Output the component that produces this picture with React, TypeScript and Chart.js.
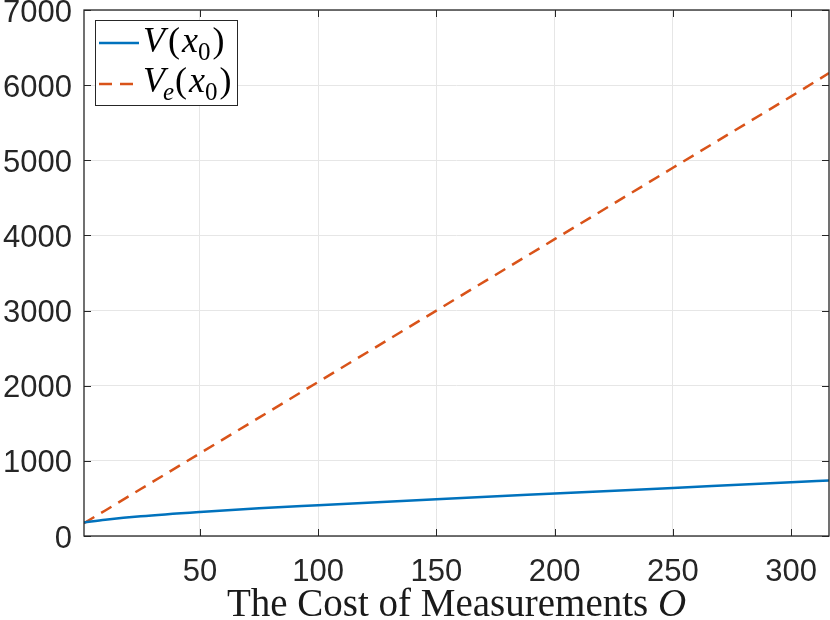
import React, { useEffect, useRef } from "react";
import { Chart, registerables } from "chart.js";

Chart.register(...registerables);

// cost of measurements O
const costs = [1, 10, 25, 50, 75, 100, 150, 200, 250, 300, 316];
// V(x0)
const vValues = [180, 215, 262, 320, 368, 409, 489, 565, 640, 715, 740];
// Ve(x0)
const veValues = [170, 340, 625, 1100, 1575, 2050, 3000, 3950, 4900, 5850, 6160];

const xTicks = [50, 100, 150, 200, 250, 300];
const yTicks = [0, 1000, 2000, 3000, 4000, 5000, 6000, 7000];

const BLUE = "#0072BD";
const ORANGE = "#D95319";
const AXIS = "#262626";
const SERIF = "'Liberation Serif', serif";

// draws "V(x0)" / "Ve(x0)" like LaTeX math
function drawMath(ctx, x, y, sub, size) {
  const it = `italic ${size}px ${SERIF}`;
  const up = `${size}px ${SERIF}`;
  const small = `${Math.round(size * 0.7)}px ${SERIF}`;
  const smallIt = `italic ${Math.round(size * 0.7)}px ${SERIF}`;
  const put = (t, font, dy = 0, gap = 0) => {
    ctx.font = font;
    ctx.fillText(t, x, y + dy);
    x += ctx.measureText(t).width + gap;
  };
  put("V", it, 0, sub ? -2 : 3);
  if (sub) put(sub, smallIt, size * 0.22, 1);
  put("(", up, 0, 2);
  put("x", it, 0, 0);
  put("0", small, size * 0.22, 2);
  put(")", up);
}

const decorations = {
  id: "decorations",
  afterDraw(chart) {
    const { ctx, chartArea: a, scales } = chart;
    ctx.save();
    // inward ticks
    ctx.strokeStyle = AXIS;
    ctx.lineWidth = 1;
    ctx.beginPath();
    xTicks.forEach((v) => {
      const px = Math.round(scales.x.getPixelForValue(v)) + 0.5;
      ctx.moveTo(px, a.bottom);
      ctx.lineTo(px, a.bottom - 7);
      ctx.moveTo(px, a.top);
      ctx.lineTo(px, a.top + 7);
    });
    yTicks.forEach((v) => {
      const py = Math.round(scales.y.getPixelForValue(v)) + 0.5;
      ctx.moveTo(a.left, py);
      ctx.lineTo(a.left + 7, py);
      ctx.moveTo(a.right, py);
      ctx.lineTo(a.right - 7, py);
    });
    ctx.stroke();
    // frame
    ctx.lineWidth = 1.3;
    ctx.strokeRect(a.left, a.top, a.right - a.left, a.bottom - a.top);

    // legend
    const lx = 95, ly = 20, lw = 142, lh = 85;
    ctx.fillStyle = "#fff";
    ctx.fillRect(lx, ly, lw, lh);
    ctx.lineWidth = 1;
    ctx.strokeStyle = AXIS;
    ctx.strokeRect(lx + 0.5, ly + 0.5, lw, lh);
    ctx.lineWidth = 2.5;
    ctx.strokeStyle = BLUE;
    ctx.beginPath();
    ctx.moveTo(99, 43);
    ctx.lineTo(139, 43);
    ctx.stroke();
    ctx.strokeStyle = ORANGE;
    ctx.setLineDash([13, 8]);
    ctx.beginPath();
    ctx.moveTo(99, 84);
    ctx.lineTo(139, 84);
    ctx.stroke();
    ctx.setLineDash([]);
    ctx.fillStyle = "#000";
    ctx.textBaseline = "alphabetic";
    drawMath(ctx, 143, 52, "", 36);
    drawMath(ctx, 143, 92, "e", 36);

    // x axis title
    const size = 39;
    ctx.fillStyle = "#1a1a1a";
    ctx.font = `${size}px ${SERIF}`;
    const main = "The Cost of Measurements ";
    const w1 = ctx.measureText(main).width;
    ctx.font = `italic ${size}px ${SERIF}`;
    const w2 = ctx.measureText("O").width;
    const cx = (a.left + a.right) / 2;
    const tx = cx - (w1 + w2) / 2;
    ctx.font = `${size}px ${SERIF}`;
    ctx.fillText(main, tx, 616);
    ctx.font = `italic ${size}px ${SERIF}`;
    ctx.fillText("O", tx + w1, 616);
    ctx.restore();
  },
};

const App = () => {
  const chartRef = useRef(null);
  const chartInstance = useRef(null);

  useEffect(() => {
    const tickFont = { family: "'Liberation Sans', Arial, sans-serif", size: 31 };

    const config = {
      type: "line",
      data: {
        datasets: [
          {
            label: "V(x0)",
            data: costs.map((c, i) => ({ x: c, y: vValues[i] })),
            borderColor: BLUE,
            borderWidth: 2.5,
            pointRadius: 0,
            cubicInterpolationMode: "monotone",
          },
          {
            label: "Ve(x0)",
            data: costs.map((c, i) => ({ x: c, y: veValues[i] })),
            borderColor: ORANGE,
            borderWidth: 2.5,
            borderDash: [12, 8],
            pointRadius: 0,
          },
        ],
      },
      options: {
        animation: false,
        responsive: true,
        maintainAspectRatio: false,
        layout: { padding: { top: 10, right: 1, left: 0, bottom: 0 } },
        plugins: {
          legend: { display: false },
          tooltip: { enabled: false },
        },
        scales: {
          x: {
            type: "linear",
            min: 1,
            max: 316,
            afterBuildTicks: (s) => {
              s.ticks = xTicks.map((v) => ({ value: v }));
            },
            afterFit: (s) => {
              s.height = 84;
              s.paddingLeft = 0;
              s.paddingRight = 0;
            },
            grid: { color: "#e6e6e6", drawTicks: false },
            border: { display: false },
            ticks: {
              font: tickFont,
              color: AXIS,
              padding: 18,
              maxRotation: 0,
              callback: (v) => String(v),
            },
          },
          y: {
            min: 0,
            max: 7000,
            afterBuildTicks: (s) => {
              s.ticks = yTicks.map((v) => ({ value: v }));
            },
            afterFit: (s) => {
              s.width = 84;
              s.paddingTop = 0;
              s.paddingBottom = 0;
            },
            grid: { color: "#e6e6e6", drawTicks: false },
            border: { display: false },
            ticks: {
              font: tickFont,
              color: AXIS,
              padding: 12,
              labelOffset: 3,
              callback: (v) => String(v),
            },
          },
        },
      },
      plugins: [decorations],
    };

    if (chartInstance.current) {
      chartInstance.current.destroy();
    }
    if (chartRef.current) {
      chartInstance.current = new Chart(chartRef.current, config);
    }
    return () => {
      if (chartInstance.current) {
        chartInstance.current.destroy();
        chartInstance.current = null;
      }
    };
  }, []);

  return (
    <div style={{ position: "fixed", left: 0, top: 0, width: 830, height: 620, background: "#fff" }}>
      <canvas ref={chartRef}></canvas>
    </div>
  );
};

export default App;
